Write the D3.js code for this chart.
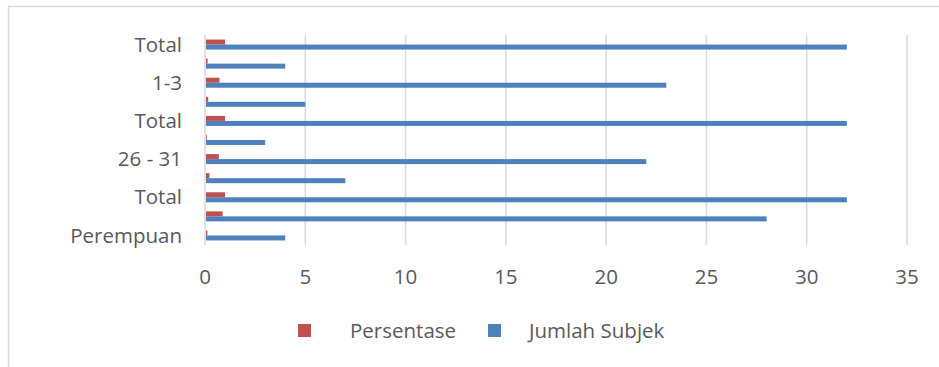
<!DOCTYPE html>
<html>
<head>
<meta charset="utf-8">
<script src="https://cdn.jsdelivr.net/npm/d3@7"></script>
<style>
  body { margin: 0; background: #fff; }
  text { font-family: "Open Sans", sans-serif; fill: #595959; }
</style>
</head>
<body>
<div id="chart"></div>
<script>
// categories listed top to bottom
const categories = ["Total", "> 3", "1-3", "< 1", "Total", "32 - 37", "26 - 31", "20 - 25", "Total", "Laki-laki", "Perempuan"];
const persentase = [1, 0.13, 0.72, 0.16, 1, 0.09, 0.69, 0.22, 1, 0.88, 0.12];
const jumlahSubjek = [32, 4, 23, 5, 32, 3, 22, 7, 32, 28, 4];
const seriesNames = ["Persentase", "Jumlah Subjek"];
const seriesColors = ["#C0504D", "#4F81BD"];
const xTicks = [0, 5, 10, 15, 20, 25, 30, 35];

const width = 939, height = 367;
const fontSize = 20.5;

const svg = d3.select("#chart").append("svg")
    .attr("width", width)
    .attr("height", height);

// chart frame (only left and top edges show)
svg.append("path")
    .attr("d", "M8.5,367V6.5H939")
    .attr("fill", "none")
    .attr("stroke", "#D9D9D9")
    .attr("stroke-width", 1.5);

const x = d3.scaleLinear().domain([0, 35]).range([205, 907]);
const y = d3.scaleBand().domain(d3.range(categories.length)).range([35, 245]);
const ySub = d3.scaleBand().domain(seriesNames)
    .range([y.bandwidth() / 2 - 5, y.bandwidth() / 2 + 5]);

// gridlines
svg.append("g")
    .selectAll("line")
    .data(xTicks)
    .join("line")
    .attr("x1", d => x(d))
    .attr("x2", d => x(d))
    .attr("y1", 35)
    .attr("y2", 245)
    .attr("stroke", "#D9D9D9")
    .attr("stroke-width", 1.5);

const rows = categories.map((c, i) => ({
    i: i,
    values: [persentase[i], jumlahSubjek[i]]
}));

const row = svg.append("g")
    .selectAll("g")
    .data(rows)
    .join("g")
    .attr("transform", d => `translate(0,${y(d.i)})`);

row.selectAll("rect")
    .data(d => d.values.map((v, k) => ({ v: v, k: k })))
    .join("rect")
    .attr("x", x(0) + 1)
    .attr("y", d => ySub(seriesNames[d.k]))
    .attr("width", d => Math.max(0, x(d.v) - x(0) - 1))
    .attr("height", ySub.bandwidth())
    .attr("fill", d => seriesColors[d.k]);

// category labels, every other one fits
svg.append("g")
    .selectAll("text")
    .data(rows.filter(d => d.i % 2 === 0))
    .join("text")
    .attr("x", 182)
    .attr("y", d => y(d.i) + y.bandwidth() / 2)
    .attr("dy", "0.35em")
    .attr("text-anchor", "end")
    .attr("font-size", fontSize)
    .text(d => categories[d.i]);

// x tick labels
svg.append("g")
    .selectAll("text")
    .data(xTicks)
    .join("text")
    .attr("x", d => x(d))
    .attr("y", 277)
    .attr("dy", "0.35em")
    .attr("text-anchor", "middle")
    .attr("font-size", fontSize)
    .text(d => d);

// legend
const legendX = [298, 488];
const legend = svg.append("g")
    .selectAll("g")
    .data(seriesNames)
    .join("g")
    .attr("transform", (d, i) => `translate(${legendX[i]},324)`);

legend.append("rect")
    .attr("width", 13)
    .attr("height", 13)
    .attr("fill", (d, i) => seriesColors[i]);

legend.append("text")
    .attr("x", (d, i) => i === 0 ? 52 : 41)
    .attr("y", 6.5)
    .attr("dy", "0.35em")
    .attr("font-size", fontSize)
    .text(d => d);
</script>
</body>
</html>
